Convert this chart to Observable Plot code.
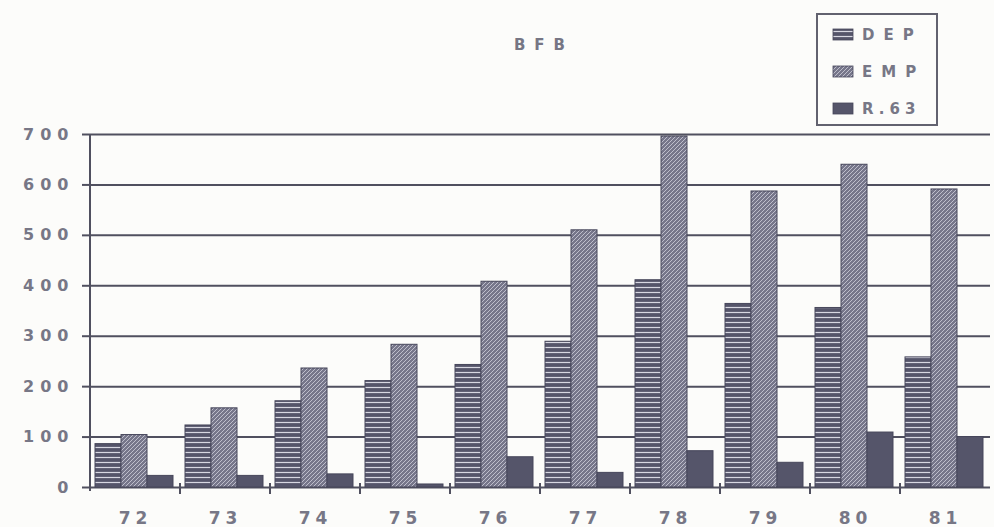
<!DOCTYPE html>
<html>
<head>
<meta charset="utf-8">
<script src="https://cdn.jsdelivr.net/npm/d3@7"></script>
<script src="https://cdn.jsdelivr.net/npm/@observablehq/plot@0.6"></script>
<style>
  html, body { margin: 0; padding: 0; background: #fcfcfa; }
  #chart { position: relative; width: 994px; height: 527px; overflow: hidden; font-family: "DejaVu Sans", sans-serif; }
  #title { position: absolute; left: 0; width: 1088px; top: 36px; text-align: center; font-size: 15px; font-weight: bold; color: #767684; letter-spacing: 9px; }
  #legend { position: absolute; left: 816px; top: 13px; width: 118px; height: 109px; border: 2px solid #62626f; background: #fcfcfa; }
  #chart svg g[aria-label="y-axis tick label"] text { letter-spacing: 6px; }
  #chart svg g[aria-label="fx-axis tick label"] text { letter-spacing: 5px; }
</style>
</head>
<body>
<div id="chart">
  <svg width="0" height="0" style="position:absolute">
    <defs>
      <!-- horizontal light rules on a dark ground -->
      <pattern id="pat-dep" patternUnits="userSpaceOnUse" width="6" height="5">
        <rect width="6" height="5" fill="#55556a"></rect>
        <line x1="0" y1="2.5" x2="6" y2="2.5" stroke="#d8d8e2" stroke-width="1.2"></line>
      </pattern>
      <!-- diagonal hatch, rising to the right -->
      <pattern id="pat-emp" patternUnits="userSpaceOnUse" width="4" height="4">
        <rect width="4" height="4" fill="#76768a"></rect>
        <path d="M-1,1 L1,-1 M0,4 L4,0 M3,5 L5,3" stroke="#c6c6d2" stroke-width="0.9"></path>
      </pattern>
      <pattern id="pat-r63" patternUnits="userSpaceOnUse" width="4" height="4">
        <rect width="4" height="4" fill="#55556a"></rect>
      </pattern>
    </defs>
  </svg>
  <div id="title">BFB</div>
  <div id="legend"></div>
</div>
<script>
// Yearly values per series
const years = ["72", "73", "74", "75", "76", "77", "78", "79", "80", "81"];
const series = ["DEP", "EMP", "R.63"];
const dep = [86, 123, 171, 211, 243, 289, 411, 364, 356, 258];
const emp = [104, 157, 236, 283, 408, 510, 696, 587, 640, 591];
const r63 = [23, 23, 26, 6, 60, 29, 72, 49, 109, 100];
const yTicks = [0, 100, 200, 300, 400, 500, 600, 700];
const patterns = ["url(#pat-dep)", "url(#pat-emp)", "url(#pat-r63)"];

const columns = [dep, emp, r63];
const table = years.flatMap((year, i) =>
  series.map((s, j) => ({year, series: s, value: columns[j][i]}))
);

const ink = "#50505f";
const textInk = "#777786";

const plot = Plot.plot({
  width: 994,
  height: 527,
  marginLeft: 86,
  marginRight: 0,
  marginTop: 134,
  marginBottom: 40,
  style: {background: "transparent", fontFamily: "DejaVu Sans, sans-serif", overflow: "visible"},
  fx: {domain: years, padding: 0, label: null},
  x: {domain: series, paddingInner: 0, paddingOuter: 0.2, align: 0.45, axis: null},
  y: {domain: [0, 700], label: null},
  color: {domain: series, range: patterns},
  marks: [
    Plot.gridY(yTicks, {stroke: ink, strokeOpacity: 1, strokeWidth: 2}),
    Plot.barY(table, {fx: "year", x: "series", y: "value", fill: "series", stroke: "#46465a", strokeWidth: 1}),
    Plot.axisY(yTicks, {tickSize: 8, tickPadding: 8, fontSize: 16, fontWeight: "bold", fill: textInk, stroke: ink, strokeWidth: 2}),
    Plot.axisFx({anchor: "bottom", tickSize: 0, tickPadding: 24, fontSize: 17, fontWeight: "bold", fill: textInk, label: null})
  ]
});

// Vertical axis line and the group-boundary ticks, placed from the plot's own scales
const fx = plot.scale("fx");
const y = plot.scale("y");
const y0 = y.apply(0);
const yTop = y.apply(700);
const deco = d3.select(plot).append("g").attr("stroke", ink).attr("stroke-width", 2);
const left = fx.apply(years[0]);
deco.append("line").attr("x1", left).attr("x2", left).attr("y1", yTop).attr("y2", y0 + 4);
years.slice(1).forEach((yr) => {
  const x = fx.apply(yr);
  deco.append("line").attr("x1", x).attr("x2", x).attr("y1", y0 - 4).attr("y2", y0 + 7);
});

document.getElementById("chart").insertBefore(plot, document.getElementById("title"));

// Legend: pattern swatches with series names
const legend = d3.select("#legend").append("svg").attr("width", 118).attr("height", 109);
series.forEach((s, i) => {
  const g = legend.append("g").attr("transform", `translate(15, ${14 + i * 37})`);
  g.append("rect").attr("width", 20).attr("height", 11).attr("fill", patterns[i]).attr("stroke", "#46465a").attr("stroke-width", 0.8);
  g.append("text").attr("x", 29).attr("y", 11)
    .attr("font-family", "DejaVu Sans, sans-serif").attr("font-size", 15).attr("font-weight", "bold")
    .attr("letter-spacing", i === 2 ? 5 : 9).attr("fill", textInk).text(s);
});
</script>
</body>
</html>
